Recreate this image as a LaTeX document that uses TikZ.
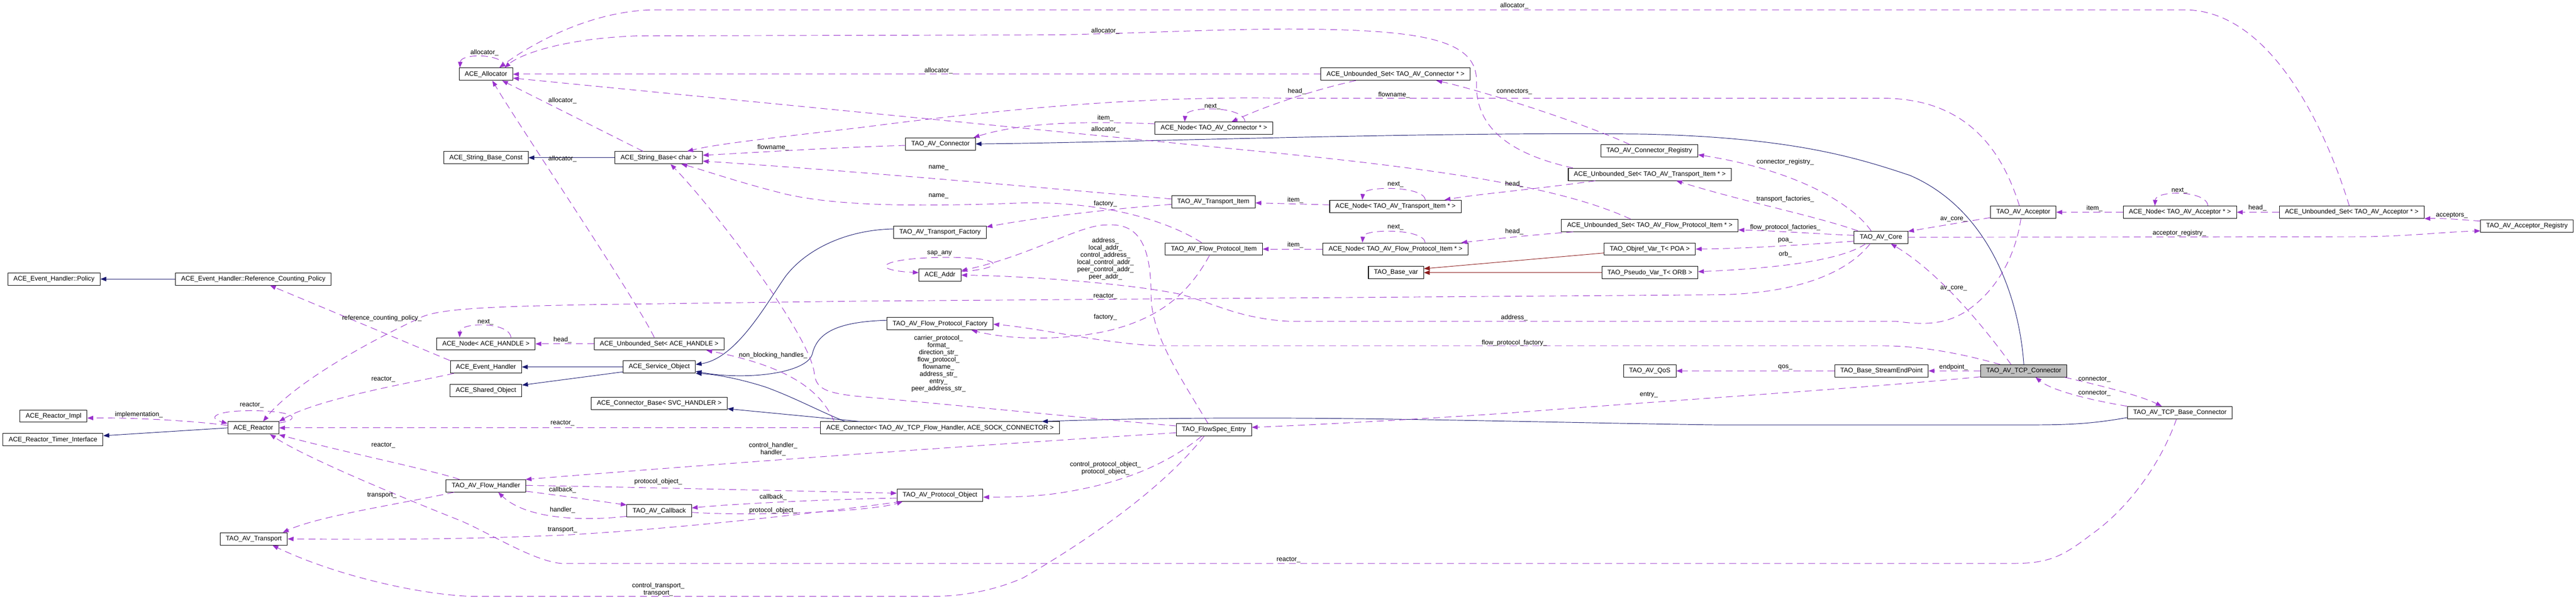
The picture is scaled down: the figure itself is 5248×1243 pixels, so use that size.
\documentclass[tikz,border=0pt]{standalone}
\usepackage{fontspec}
\setmainfont{Liberation Sans}
\usetikzlibrary{arrows.meta}
\definecolor{dxblue}{HTML}{191970}
\definecolor{dxorchid}{HTML}{9A32CD}
\definecolor{dxred}{HTML}{8B1A1A}
\definecolor{dxgrey}{HTML}{BFBFBF}
\newcommand{\dxfont}{\fontsize{13.25}{14.7}\selectfont}
\tikzstyle{cls} = [rectangle, draw=black, line width=1.1pt, fill=white, minimum height=25pt, inner xsep=11.5pt, inner ysep=0pt, font=\dxfont]
\tikzstyle{hit} = [cls, fill=dxgrey]
\tikzstyle{lbl} = [font=\dxfont, inner sep=0pt, align=center]
\tikzstyle{inherit} = [dxblue, line width=1pt, -{Triangle[length=12pt,width=9pt]}]
\tikzstyle{tmpl} = [dxred, line width=1pt, -{Triangle[length=12pt,width=9pt]}]
\tikzstyle{uses} = [dxorchid, line width=1pt, dash pattern=on 14pt off 9pt, -{Triangle[length=12pt,width=9pt]}]

\begin{document}
\begin{tikzpicture}[x=1pt, y=-1pt]
\useasboundingbox (0,0) rectangle (5248,1243);
% Column 0/1
\node (policy) [cls] at (110,568) {ACE\_Event\_Handler::Policy};
\node (rcpolicy) [cls] at (516,568) {ACE\_Event\_Handler::Reference\_Counting\_Policy};
\node (rimpl) [cls] at (109,847) {ACE\_Reactor\_Impl};
\node (rtimer) [cls] at (108,895) {ACE\_Reactor\_Timer\_Interface};
\node (reactor) [cls] at (516,871) {ACE\_Reactor};
\node (transport) [cls] at (517,1097) {TAO\_AV\_Transport};
% Column 2/3
\node (alloc) [cls] at (990,151) {ACE\_Allocator};
\node (sbconst) [cls] at (990,321) {ACE\_String\_Base\_Const};
\node (sbase) [cls] at (1342,321) {ACE\_String\_Base< char >};
\node (nodeh) [cls] at (990,700) {ACE\_Node< ACE\_HANDLE >};
\node (seth) [cls] at (1343,700) {ACE\_Unbounded\_Set< ACE\_HANDLE >};
\node (evh) [cls] at (990,747) {ACE\_Event\_Handler};
\node (svcobj) [cls] at (1343,747) {ACE\_Service\_Object};
\node (shobj) [cls] at (990,795) {ACE\_Shared\_Object};
\node (connbase) [cls] at (1343,821) {ACE\_Connector\_Base< SVC\_HANDLER >};
\node (fhandler) [cls] at (990,989) {TAO\_AV\_Flow\_Handler};
\node (callback) [cls] at (1343,1040) {TAO\_AV\_Callback};
% Column 4/5
\node (avconn) [cls] at (1916,293) {TAO\_AV\_Connector};
\node (tfact) [cls] at (1915,473) {TAO\_AV\_Transport\_Factory};
\node (addr) [cls] at (1915,560) {ACE\_Addr};
\node (fpfact) [cls] at (1915,659) {TAO\_AV\_Flow\_Protocol\_Factory};
\node (aceconn) [cls] at (1915,871) {ACE\_Connector< TAO\_AV\_TCP\_Flow\_Handler, ACE\_SOCK\_CONNECTOR >};
\node (protobj) [cls] at (1915,1008) {TAO\_AV\_Protocol\_Object};
\node (nodeconn) [cls] at (2473,261) {ACE\_Node< TAO\_AV\_Connector * >};
\node (titem) [cls] at (2472,411) {TAO\_AV\_Transport\_Item};
\node (fpitem) [cls] at (2473,507) {TAO\_AV\_Flow\_Protocol\_Item};
\node (entry) [cls] at (2473,875) {TAO\_FlowSpec\_Entry};
% Column 6/7
\node (setconn) [cls] at (2843,151) {ACE\_Unbounded\_Set< TAO\_AV\_Connector * >};
\node (nodetitem) [cls] at (2843,420) {ACE\_Node< TAO\_AV\_Transport\_Item * >};
\node (nodefpitem) [cls] at (2843,507) {ACE\_Node< TAO\_AV\_Flow\_Protocol\_Item * >};
\node (basevar) [cls] at (2844,555) {TAO\_Base\_var};
\node (connreg) [cls] at (3360,307) {TAO\_AV\_Connector\_Registry};
\node (settitem) [cls] at (3361,355) {ACE\_Unbounded\_Set< TAO\_AV\_Transport\_Item * >};
\node (setfpitem) [cls] at (3361,459) {ACE\_Unbounded\_Set< TAO\_AV\_Flow\_Protocol\_Item * >};
\node (objref) [cls] at (3361,507) {TAO\_Objref\_Var\_T< POA >};
\node (pseudo) [cls] at (3361,555) {TAO\_Pseudo\_Var\_T< ORB >};
\node (qos) [cls] at (3361,755) {TAO\_AV\_QoS};
% Column 8 and right
\node (core) [cls] at (3832,483) {TAO\_AV\_Core};
\node (sep) [cls] at (3833,755) {TAO\_Base\_StreamEndPoint};
\node (acc) [cls] at (4122,432) {TAO\_AV\_Acceptor};
\node (tcpconn) [hit] at (4123,755) {TAO\_AV\_TCP\_Connector};
\node (nodeacc) [cls] at (4441,432) {ACE\_Node< TAO\_AV\_Acceptor * >};
\node (tcpbase) [cls] at (4441,840) {TAO\_AV\_TCP\_Base\_Connector};
\node (setacc) [cls] at (4791,432) {ACE\_Unbounded\_Set< TAO\_AV\_Acceptor * >};
\node (accreg) [cls] at (5148,460) {TAO\_AV\_Acceptor\_Registry};

% Inheritance
\draw [inherit] (rcpolicy.west) -- (policy.east);
\draw [inherit] (sbase.west) -- (sbconst.east);
\draw [inherit] (reactor.west) -- ([yshift=8pt]rtimer.east);
\draw [inherit] (svcobj.west) -- (evh.east);
\draw [inherit] ([yshift=-10pt]svcobj.west) -- ([yshift=-2pt]shobj.north east);
\draw [inherit] ([yshift=7pt]tfact.west) .. controls (1720,468) and (1640,510) .. (1600,563) .. controls (1560,620) and (1500,730) .. ([yshift=5pt]svcobj.east);
\draw [inherit] ([yshift=7pt]fpfact.west) .. controls (1700,655) and (1665,680) .. (1655,720) .. controls (1645,760) and (1520,775) .. ([yshift=-9pt]svcobj.east);
\draw [inherit] ([xshift=50pt]aceconn.north west) .. controls (1665,835) and (1620,810) .. (1560,788) .. controls (1510,772) and (1460,762) .. (svcobj.south east);
\draw [inherit] ([xshift=80pt]aceconn.north west) -- ([yshift=2pt]connbase.south east);
\draw [inherit] (tcpconn.north) .. controls (4115,620) and (4060,430) .. (3891,357) .. controls (3780,320) and (3650,280) .. (3350,273) .. controls (2900,268) and (2300,290) .. (avconn.east);
\draw [inherit] ([yshift=-10pt]tcpbase.west) .. controls (4250,865) and (4200,865) .. (4100,865) -- (3500,865) .. controls (3000,858) and (2600,842) .. ([xshift=-36pt]aceconn.north east);
\draw [tmpl] ([yshift=-8pt]objref.west) -- ([yshift=8pt]basevar.east);
\draw [tmpl] (pseudo.west) -- (basevar.east);

% Allocator and strings
\draw [uses] ([xshift=-15pt]alloc.north east) .. controls +(-2,-30) and +(2,-30) .. ([xshift=2pt]alloc.north west);
\draw [uses] ([xshift=-5pt]setacc.north) .. controls (4750,300) and (4640,20) .. (4450,20) -- (1338,20) .. controls (1200,20) and (1075,95) .. ([xshift=27pt]alloc.north);
\draw [uses] ([xshift=10pt]settitem.north west) .. controls (3060,310) and (3005,250) .. (3008,167) .. controls (3010,80) and (2900,60) .. (2625,59) .. controls (2450,60) and (2350,67) .. (2150,71) -- (1300,73) .. controls (1150,78) and (1060,110) .. ([xshift=38pt]alloc.north);
\draw [uses] (setconn.west) -- (alloc.east);
\draw [uses] ([xshift=-39pt]setfpitem.north) .. controls (3200,390) and (3000,352) .. (2625,314) -- ([yshift=-8pt]alloc.east);
\draw [uses] ([xshift=-32pt]sbase.north) -- ([xshift=33pt]alloc.south);
\draw [uses] ([xshift=-10pt]seth.north) .. controls (1290,600) and (1060,260) .. ([xshift=13pt]alloc.south);
\draw [uses] ([xshift=-8pt]acc.north) .. controls (4080,310) and (4010,200) .. (3835,200) -- (2625,200) .. controls (2300,194) and (2000,228) .. (1750,260) .. controls (1580,280) and (1460,293) .. ([xshift=58pt]sbase.north);
\draw [uses] ([yshift=-3pt]avconn.west) .. controls (1700,300) and (1550,310) .. ([yshift=5pt]sbase.east);
\draw [uses] ([yshift=6pt]titem.west) .. controls (2100,380) and (1700,345) .. ([yshift=-7pt]sbase.east);
\draw [uses] ([xshift=-25pt]fpitem.north) .. controls (2380,450) and (2250,410) .. (2085,413) .. controls (1850,422) and (1700,418) .. (1600,395) .. controls (1500,370) and (1430,345) .. ([xshift=46pt]sbase.south);
\draw [uses] ([yshift=8pt]entry.west) .. controls (2200,850) and (1900,820) .. (1750,807) .. controls (1680,800) and (1662,790) .. (1659,760) .. controls (1650,680) and (1450,420) .. ([xshift=24pt]sbase.south);

% Connector side
\draw [uses] ([xshift=-57pt]nodeconn.north east) .. controls +(-2,-33) and +(2,-33) .. ([xshift=61pt]nodeconn.north west);
\draw [uses] ([xshift=-81pt]setconn.south) .. controls (2680,182) and (2580,215) .. ([xshift=36pt]nodeconn.north);
\draw [uses] ([yshift=9pt]nodeconn.west) .. controls (2200,246) and (2080,250) .. ([xshift=-4pt]avconn.north east);
\draw [uses] ([xshift=-40pt]connreg.north) .. controls (3200,240) and (3000,180) .. ([xshift=83pt]setconn.south);
\draw [uses] ([yshift=-5pt]titem.west) .. controls (2250,426) and (2100,445) .. ([yshift=11pt]tfact.east);
\draw [uses] ([xshift=-111pt]settitem.south) .. controls (3130,385) and (3010,395) .. ([xshift=100pt]nodetitem.north);
\draw [uses] ([xshift=-74pt]nodetitem.north east) .. controls +(-2,-29) and +(2,-29) .. ([xshift=67pt]nodetitem.north west);
\draw [uses] ([yshift=3pt]nodetitem.west) -- ([yshift=-2pt]titem.east);
\draw [uses] ([xshift=-156pt]setfpitem.south) .. controls (3120,478) and (3030,488) .. ([xshift=134pt]nodefpitem.north);
\draw [uses] ([xshift=-88pt]nodefpitem.north east) .. controls +(-2,-29) and +(2,-29) .. ([xshift=81pt]nodefpitem.north west);
\draw [uses] (nodefpitem.west) -- (fpitem.east);
\draw [uses] ([xshift=-9pt]fpitem.south) .. controls (2420,600) and (2360,650) .. (2250,675) .. controls (2150,695) and (2050,690) .. ([xshift=64pt]fpfact.south);

% Addresses
\draw [uses] ([yshift=7pt]addr.east) .. controls (2060,545) and (2040,522) .. (1917,524) .. controls (1790,526) and (1770,550) .. ([yshift=5pt]addr.west);
\draw [uses] ([xshift=-12pt]entry.north) .. controls (2400,760) and (2345,680) .. (2345,600) .. controls (2345,470) and (2300,455) .. (2252,458) .. controls (2200,458) and (2100,520) .. ([yshift=9pt]addr.east);
\draw [uses] ([xshift=-5pt]acc.south) .. controls (4105,530) and (4060,600) .. (4000,637) .. controls (3960,660) and (3920,662) .. (3863,654) -- (2625,654) .. controls (2520,648) and (2470,615) .. (2400,598) .. controls (2300,578) and (2100,562) .. (addr.east);

% Core
\draw [uses] ([yshift=-11pt]acc.west) .. controls (4000,452) and (3940,462) .. ([yshift=12pt]core.east);
\draw [uses] (nodeacc.west) -- (acc.east);
\draw [uses] ([xshift=-59pt]nodeacc.north east) .. controls +(-2,-32) and +(2,-32) .. ([xshift=65pt]nodeacc.north west);
\draw [uses] (setacc.west) -- (nodeacc.east);
\draw [uses] ([yshift=10pt]accreg.west) .. controls (5010,447) and (4980,444) .. (setacc.south east);
\draw [uses] (core.east) -- (4792,482) .. controls (4900,482) and (4980,472) .. ([yshift=-10pt]accreg.west);
\draw [uses] ([xshift=-20pt]core.north) .. controls (3770,410) and (3650,345) .. ([yshift=-8pt]connreg.east);
\draw [uses] ([xshift=-47pt]core.north) .. controls (3700,440) and (3550,410) .. ([xshift=54pt]settitem.south);
\draw [uses] ([yshift=4pt]core.west) .. controls (3700,476) and (3620,470) .. ([yshift=-9pt]setfpitem.east);
\draw [uses] ([yshift=-8pt]core.west) .. controls (3650,500) and (3550,506) .. (objref.east);
\draw [uses] ([xshift=-31pt]core.south) .. controls (3760,525) and (3650,545) .. ([yshift=2pt]pseudo.east);
\draw [uses] ([xshift=-22pt]core.south) .. controls (3760,560) and (3650,598) .. (3500,600) -- (1750,613) -- (1210,620) .. controls (1000,624) and (900,628) .. (860,645) .. controls (720,710) and (590,790) .. ([xshift=20pt]reactor.north);
\draw [uses] ([xshift=-48pt]tcpconn.north) .. controls (3980,715) and (3900,704) .. (3835,704) -- (2364,704) .. controls (2250,700) and (2120,668) .. ([yshift=-1pt]fpfact.east);
\draw [uses] ([yshift=-12pt]tcpconn.west) .. controls (3800,790) and (3400,815) .. (3071,841) .. controls (2850,856) and (2650,866) .. ([yshift=5pt]entry.east);
\draw [uses] ([xshift=-26pt]tcpconn.north) .. controls (4060,690) and (3960,560) .. ([xshift=20pt]core.south);
\draw [uses] (tcpconn.west) -- (sep.east);
\draw [uses] (sep.west) -- (qos.east);
\draw [uses] ([xshift=-5pt]tcpconn.south east) .. controls (4280,785) and (4360,805) .. ([xshift=-37pt]tcpbase.north);
\draw [uses] (tcpbase.north west) .. controls (4260,815) and (4180,795) .. ([xshift=24pt]tcpconn.south);

% Reactor and handlers
\draw [uses] (evh.north west) -- ([xshift=34pt]rcpolicy.south);
\draw [uses] ([xshift=8pt]evh.south west) .. controls (860,775) and (650,810) .. (reactor.north east);
\draw [uses] (aceconn.west) -- (reactor.east);
\draw [uses] ([xshift=-54pt]fhandler.north) .. controls (900,962) and (700,920) .. ([yshift=-14pt]reactor.east);
\draw [uses] ([xshift=-7pt]tcpbase.south) .. controls (4400,950) and (4330,1040) .. (4259,1089) .. controls (4200,1135) and (4170,1147) .. (4100,1147) -- (1143,1147) .. controls (1080,1140) and (990,1080) .. (931,1057) .. controls (800,1005) and (620,930) .. ([xshift=34pt]reactor.south);
\draw [uses] ([yshift=5pt]reactor.west) .. controls (380,855) and (260,850) .. ([yshift=-4pt]rimpl.east);
\draw [uses] ([yshift=10pt]reactor.east) .. controls (610,855) and (610,838) .. (520,836) .. controls (440,835) and (420,850) .. ([yshift=9pt]reactor.west);
\draw [uses] ([xshift=-50pt]nodeh.north east) .. controls +(-2,-32) and +(2,-32) .. ([xshift=47pt]nodeh.north west);
\draw [uses] (seth.west) -- (nodeh.east);
\draw [uses] ([xshift=28pt]aceconn.north west) .. controls (1670,790) and (1600,745) .. ([xshift=96pt]seth.south);
\draw [uses] ([yshift=-6pt]entry.west) .. controls (2000,905) and (1450,945) .. ([xshift=-1pt]fhandler.north east);
\draw [uses] ([yshift=1pt]fhandler.east) .. controls (1300,992) and (1650,1000) .. ([yshift=4pt]protobj.west);
\draw [uses] ([yshift=-11pt]fhandler.east) .. controls (1150,1010) and (1220,1020) .. ([yshift=12pt]callback.west);
\draw [uses] ([yshift=-11pt]callback.west) .. controls (1180,1062) and (1070,1055) .. ([xshift=25pt]fhandler.south);
\draw [uses] ([yshift=-6pt]protobj.west) .. controls (1700,1016) and (1500,1025) .. ([yshift=6pt]callback.east);
\draw [uses] ([yshift=-3pt]callback.east) .. controls (1550,1052) and (1780,1040) .. ([xshift=12pt]protobj.south west);
\draw [uses] ([xshift=8pt]protobj.south west) .. controls (1700,1040) and (1400,1075) .. (1154,1089) .. controls (900,1100) and (700,1098) .. (transport.east);
\draw [uses] ([xshift=17pt]fhandler.south west) .. controls (820,1025) and (650,1050) .. ([xshift=-10pt]transport.north east);
\draw [uses] ([xshift=-20pt]entry.south) .. controls (2380,980) and (2250,1080) .. (2085,1176) .. controls (2020,1205) and (1950,1214) .. (1900,1214) -- (960,1214) .. controls (850,1210) and (680,1170) .. ([xshift=38pt]transport.south);
\draw [uses] ([xshift=-25pt]entry.south) .. controls (2390,935) and (2300,985) .. (2141,1006) .. controls (2090,1012) and (2040,1012) .. ([yshift=-4pt]protobj.east);

% Labels
\node (lalloc0) [lbl] at (987,107) {allocator\_};
\node (lalloc1) [lbl] at (3085,12) {allocator\_};
\node (lalloc2) [lbl] at (2252,63) {allocator\_};
\node (lalloc3) [lbl] at (1912,144) {allocator\_};
\node (lalloc4) [lbl] at (2252,264) {allocator\_};
\node (lalloc5) [lbl] at (1146,205) {allocator\_};
\node (lalloc6) [lbl] at (1146,323) {allocator\_};
\node (lflow1) [lbl] at (2840,193) {flowname\_};
\node (lflow2) [lbl] at (1575,300) {flowname\_};
\node (lname1) [lbl] at (1912,342) {name\_};
\node (lname2) [lbl] at (1912,399) {name\_};
\node (lstrs) [lbl] at (1912,740.5) {carrier\_protocol\_\\format\_\\direction\_str\_\\flow\_protocol\_\\flowname\_\\address\_str\_\\entry\_\\peer\_address\_str\_};
\node (lnext1) [lbl] at (2470,217) {next\_};
\node (lhead1) [lbl] at (2642,186) {head\_};
\node (litem1) [lbl] at (2252,241) {item\_};
\node (lconns) [lbl] at (3085,186) {connectors\_};
\node (lfact1) [lbl] at (2252,415) {factory\_};
\node (lhead2) [lbl] at (3085,375) {head\_};
\node (lnext2) [lbl] at (2843,375) {next\_};
\node (litem2) [lbl] at (2639,407) {item\_};
\node (lhead3) [lbl] at (3085,471) {head\_};
\node (lnext3) [lbl] at (2843,462) {next\_};
\node (litem3) [lbl] at (2639,499) {item\_};
\node (lfact2) [lbl] at (2252,646) {factory\_};
\node (lsap) [lbl] at (1914,516) {sap\_any};
\node (laddrs) [lbl] at (2252,527) {address\_\\local\_addr\_\\control\_address\_\\local\_control\_addr\_\\peer\_control\_addr\_\\peer\_addr\_};
\node (laddr) [lbl] at (3085,647) {address\_};
\node (lcore1) [lbl] at (3980,446) {av\_core\_};
\node (lcore2) [lbl] at (3980,587) {av\_core\_};
\node (litem4) [lbl] at (4267,424) {item\_};
\node (lnext4) [lbl] at (4440,388) {next\_};
\node (lhead4) [lbl] at (4599,423) {head\_};
\node (laccs) [lbl] at (4995,438) {acceptors\_};
\node (laccreg) [lbl] at (4440,475) {acceptor\_registry\_};
\node (lconnreg) [lbl] at (3637,330) {connector\_registry\_};
\node (ltfacts) [lbl] at (3637,405) {transport\_factories\_};
\node (lfpfacts) [lbl] at (3637,463) {flow\_protocol\_factories\_};
\node (lpoa) [lbl] at (3637,490) {poa\_};
\node (lorb) [lbl] at (3637,518) {orb\_};
\node (lreact1) [lbl] at (2252,603) {reactor\_};
\node (lfpfact) [lbl] at (3085,698) {flow\_protocol\_factory\_};
\node (lentry) [lbl] at (3359,804) {entry\_};
\node (lendp) [lbl] at (3980,748) {endpoint\_};
\node (lqos) [lbl] at (3637,748) {qos\_};
\node (lconn1) [lbl] at (4267,772) {connector\_};
\node (lconn2) [lbl] at (4267,800) {connector\_};
\node (lrcp) [lbl] at (778,648) {reference\_counting\_policy\_};
\node (lreact2) [lbl] at (781,772) {reactor\_};
\node (lreact3) [lbl] at (1146,861) {reactor\_};
\node (lreact4) [lbl] at (781,906) {reactor\_};
\node (lreact5) [lbl] at (2625,1139) {reactor\_};
\node (limpl) [lbl] at (283,844) {implementation\_};
\node (lreact6) [lbl] at (513,825) {reactor\_};
\node (lnext5) [lbl] at (989,656) {next\_};
\node (lhead5) [lbl] at (1146,692) {head\_};
\node (lnbh) [lbl] at (1575,723) {non\_blocking\_handles\_};
\node (lhandl) [lbl] at (1575,914.5) {control\_handler\_\\handler\_};
\node (lpobj1) [lbl] at (1341,981) {protocol\_object\_};
\node (lcb1) [lbl] at (1146,997) {callback\_};
\node (lhandl2) [lbl] at (1146,1038) {handler\_};
\node (lcb2) [lbl] at (1575,1012) {callback\_};
\node (lpobj2) [lbl] at (1575,1039) {protocol\_object\_};
\node (ltrans1) [lbl] at (1146,1079) {transport\_};
\node (ltrans2) [lbl] at (778,1008) {transport\_};
\node (ltrans3) [lbl] at (1341,1199.5) {control\_transport\_\\transport\_};
\node (lpobj3) [lbl] at (2252,953.5) {control\_protocol\_object\_\\protocol\_object\_};
\end{tikzpicture}
\end{document}
